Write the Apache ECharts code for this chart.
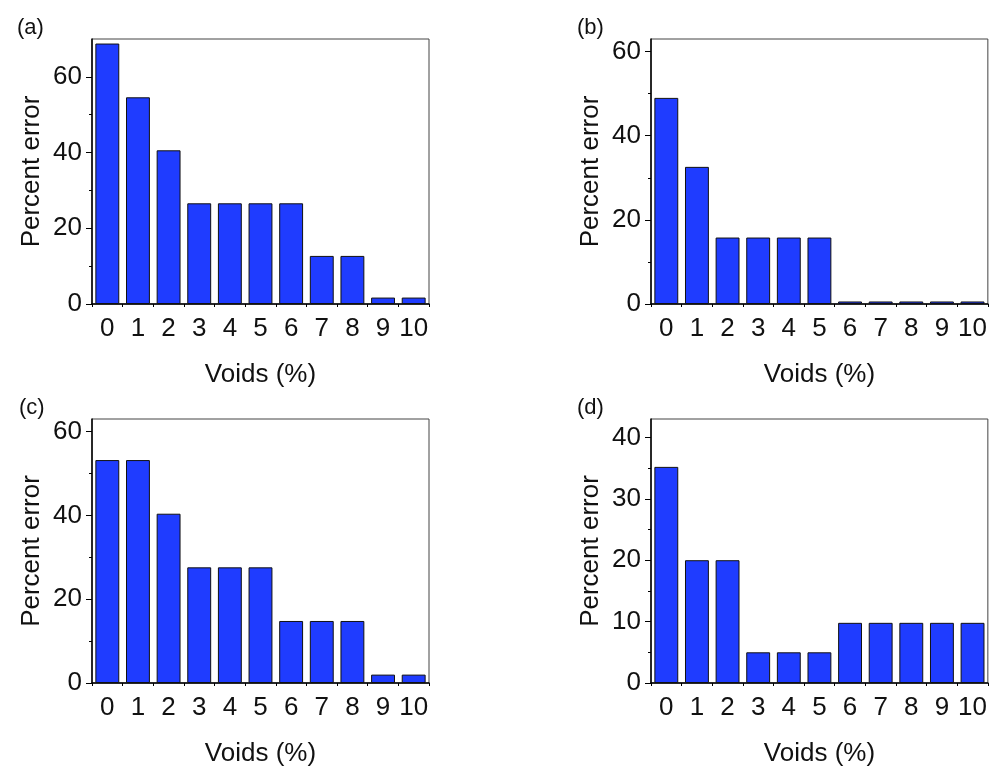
<!DOCTYPE html>
<html>
<head>
<meta charset="utf-8">
<script src="https://cdn.jsdelivr.net/npm/echarts@6/dist/echarts.min.js"></script>
<style>
  html, body { margin: 0; padding: 0; background: #fff; }
  #chart { width: 990px; height: 768px; }
</style>
</head>
<body>
<div id="chart"></div>
<script>
// categories on the x axis
const voids = ['0', '1', '2', '3', '4', '5', '6', '7', '8', '9', '10']

// percent error per panel
const errA = [68.8, 54.6, 40.6, 26.6, 26.6, 26.6, 26.6, 12.7, 12.7, 1.7, 1.7]
const errB = [49.0, 32.6, 15.8, 15.8, 15.8, 15.8, 0.6, 0.6, 0.6, 0.6, 0.6]
const errC = [53.2, 53.2, 40.4, 27.6, 27.6, 27.6, 14.8, 14.8, 14.8, 2.0, 2.0]
const errD = [35.2, 20.0, 20.0, 5.0, 5.0, 5.0, 9.8, 9.8, 9.8, 9.8, 9.8]

// y axis ranges and tick values
const maxA = 70, maxB = 63, maxC = 63, maxD = 43
const majorTicks60 = [0, 20, 40, 60]
const minorTicks60 = [10, 30, 50]
const majorTicks40 = [0, 10, 20, 30, 40]
const minorTicks40 = [5, 15, 25, 35]

const panelLabels = ['(a)', '(b)', '(c)', '(d)']

const FONT = 'Arial, "Liberation Sans", sans-serif'
const BAR_COLOR = '#1f3cff'

const panels = [
  { label: panelLabels[0], data: errA, max: maxA, major: majorTicks60, minor: minorTicks60,
    grid: { left: 92, top: 39 }, labelPos: { left: 12, top: 12 } },
  { label: panelLabels[1], data: errB, max: maxB, major: majorTicks60, minor: minorTicks60,
    grid: { left: 651, top: 39 }, labelPos: { left: 572, top: 12 } },
  { label: panelLabels[2], data: errC, max: maxC, major: majorTicks60, minor: minorTicks60,
    grid: { left: 92, top: 419 }, labelPos: { left: 14, top: 392 } },
  { label: panelLabels[3], data: errD, max: maxD, major: majorTicks40, minor: minorTicks40,
    grid: { left: 651, top: 419 }, labelPos: { left: 572, top: 392 } }
]

const titles = [], grids = [], xAxes = [], yAxes = [], series = []

panels.forEach(function (p, i) {
  titles.push({
    text: p.label, left: p.labelPos.left, top: p.labelPos.top,
    textStyle: { fontFamily: FONT, fontSize: 22, fontWeight: 'normal', color: '#111' }
  })
  grids.push({
    left: p.grid.left, top: p.grid.top, width: 337, height: 265,
    show: true, borderColor: '#444', borderWidth: 1, backgroundColor: 'transparent'
  })
  // main x axis: ticks at category centres, labels
  xAxes.push({
    type: 'category', gridIndex: i, position: 'bottom', data: voids,
    name: 'Voids (%)', nameLocation: 'middle', nameGap: 58,
    nameTextStyle: { fontFamily: FONT, fontSize: 26, color: '#111' },
    axisLine: { lineStyle: { color: '#000', width: 1.5 } },
    axisTick: { alignWithLabel: true, length: 6, lineStyle: { color: '#000' } },
    axisLabel: { interval: 0, margin: 12, fontFamily: FONT, fontSize: 26, color: '#111' }
  })
  // second x axis: short ticks at category boundaries
  xAxes.push({
    type: 'category', gridIndex: i, position: 'bottom', data: voids,
    axisLine: { show: false },
    axisTick: { show: true, interval: 0, length: 3, lineStyle: { color: '#000' } },
    axisLabel: { show: false }
  })
  // main y axis
  yAxes.push({
    type: 'value', gridIndex: i, position: 'left', min: 0, max: p.max,
    name: 'Percent error', nameLocation: 'middle', nameGap: 47,
    nameTextStyle: { fontFamily: FONT, fontSize: 26, color: '#111' },
    splitLine: { show: false },
    axisLine: { show: true, lineStyle: { color: '#000', width: 1.5 } },
    axisTick: { show: true, length: 6, customValues: p.major, lineStyle: { color: '#000' } },
    axisLabel: { margin: 10, customValues: p.major, fontFamily: FONT, fontSize: 26, color: '#111' }
  })
  // minor y ticks
  yAxes.push({
    type: 'value', gridIndex: i, position: 'left', min: 0, max: p.max,
    splitLine: { show: false },
    axisLine: { show: false },
    axisTick: { show: true, length: 3, customValues: p.minor, lineStyle: { color: '#000' } },
    axisLabel: { show: false }
  })
  series.push({
    type: 'bar', xAxisIndex: i * 2, yAxisIndex: i * 2, data: p.data,
    barCategoryGap: '22%',
    itemStyle: { color: BAR_COLOR, borderColor: '#111', borderWidth: 1 },
    silent: true
  })
})

const chart = echarts.init(document.getElementById('chart'))
chart.setOption({
  animation: false,
  backgroundColor: '#fff',
  title: titles,
  grid: grids,
  xAxis: xAxes,
  yAxis: yAxes,
  series: series
})
</script>
</body>
</html>
